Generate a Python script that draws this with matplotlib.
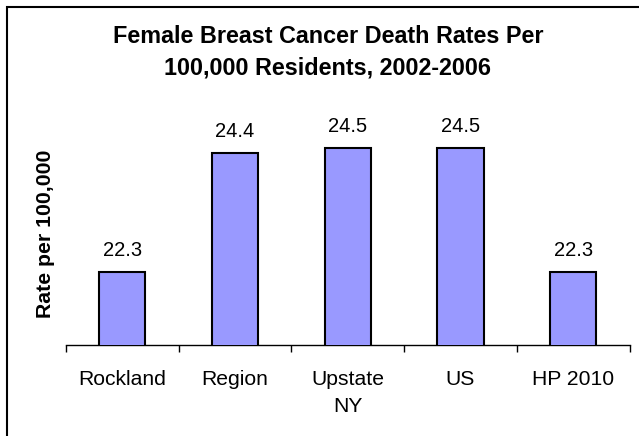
import matplotlib
matplotlib.use("Agg")
import matplotlib.pyplot as plt
from matplotlib.patches import Rectangle
import numpy as np

plt.rcParams['font.family'] = ['Liberation Sans', 'DejaVu Sans']

categories = ["Rockland", "Region", "Upstate\nNY", "US", "HP 2010"]
rates = [22.3, 24.4, 24.5, 24.5, 22.3]
title = "Female Breast Cancer Death Rates Per\n100,000 Residents, 2002-2006"

fig = plt.figure(figsize=(6.39, 4.36), dpi=100)
ax = fig.add_axes([0.1033, 0.2087, 0.882, 0.5174])

x = np.arange(len(categories))
bars = ax.bar(x, rates, width=0.41, color="#9999FF", edgecolor="black",
              linewidth=1.5, zorder=3)
for b, v in zip(bars, rates):
    ax.annotate(f"{v:.1f}", (b.get_x() + b.get_width() / 2, v),
                xytext=(0, 15.5), textcoords="offset points",
                ha="center", va="center", fontsize=14.5)

ax.set_ylim(21, 25)
ax.set_xlim(-0.5, len(categories) - 0.5)
ax.set_xticks(x)
ax.set_xticklabels(categories, fontsize=15.2, linespacing=1.55)
ax.set_xticks(np.arange(-0.5, len(categories)), minor=True)
ax.tick_params(axis="x", which="major", length=0, pad=18)
ax.tick_params(axis="x", which="minor", length=5, width=1, direction="out")
ax.set_yticks([])
for s in ["left", "top", "right"]:
    ax.spines[s].set_visible(False)
ax.spines["bottom"].set_linewidth(1)

fig.text(45.6 / 639, 1 - 233.5 / 436, "Rate per 100,000", rotation=90,
         ha="center", va="center", fontsize=15.3, fontweight="bold")
fig.text(328 / 639, 1 - 52.4 / 436, title, ha="center", va="center",
         fontsize=16.8, fontweight="bold", linespacing=1.51)

# chart frame, cut off at right and bottom like the original
fig.patches.append(Rectangle((7 / 639, -0.1), 1.2, 1 - 7 / 436 + 0.1,
                             transform=fig.transFigure, fill=False,
                             edgecolor="black", linewidth=1.5))

fig.savefig("out.png", dpi=100)
